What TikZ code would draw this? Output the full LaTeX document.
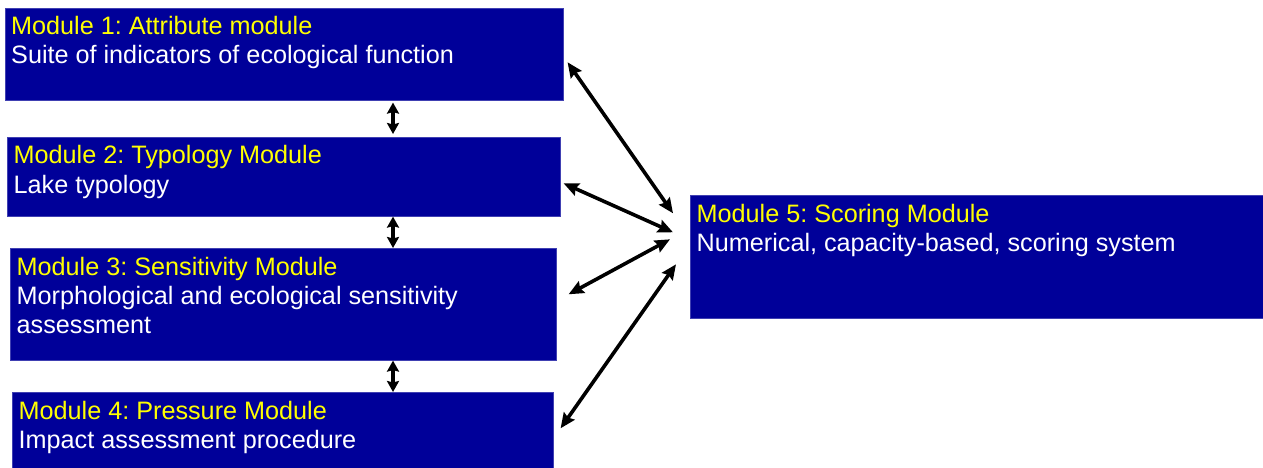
\documentclass[tikz,border=0pt]{standalone}
\usepackage{fontspec}
\setmainfont{Liberation Sans}
\usetikzlibrary{arrows.meta,calc}
\definecolor{boxblue}{RGB}{0,0,153}
\definecolor{titleyellow}{RGB}{255,255,0}
\frenchspacing
\begin{document}
\begin{tikzpicture}[x=1pt,y=-1pt,
  modbox/.style={draw=boxblue!75!white, line width=0.6pt, fill=boxblue, inner sep=0pt, anchor=north west},
  title/.style={anchor=base west, inner sep=0pt, text=titleyellow, font=\fontsize{25.2}{29}\selectfont},
  body/.style={title, text=white},
  link/.style={line width=3.6pt, {Stealth[length=15pt,width=13pt,inset=2pt]}-{Stealth[length=15pt,width=13pt,inset=2pt]}},
  vlink/.style={line width=3.6pt, {Stealth[length=11pt,width=12pt,inset=1.5pt]}-{Stealth[length=11pt,width=12pt,inset=1.5pt]}},
  ]
\useasboundingbox (0,0) rectangle (1263,468);

% module boxes
\node[modbox, minimum width=558.5pt, minimum height=92pt]  (m1) at (4.5,8)  {};
\node[modbox, minimum width=553pt,   minimum height=79pt]  (m2) at (7,137)  {};
\node[modbox, minimum width=546pt,   minimum height=112pt] (m3) at (10,248) {};
\node[modbox, minimum width=541pt,   minimum height=80pt]  (m4) at (12,392) {};
\node[modbox, minimum width=574pt,   minimum height=123pt] (m5) at (690,195) {};

% box texts
\node[title] (t1) at ($(m1.north west)+(6.5,27)$) {Module 1: Attribute module};
\node[body]  (b1) at ($(m1.north west)+(6.5,56)$) {Suite of indicators of ecological function};

\node[title] (t2) at ($(m2.north west)+(6.5,27)$) {Module 2: Typology Module};
\node[body]  (b2) at ($(m2.north west)+(6.5,56)$) {Lake typology};

\node[title] (t3) at ($(m3.north west)+(6.5,27)$) {Module 3: Sensitivity Module};
\node[body]  (b3) at ($(m3.north west)+(6.5,56)$) {Morphological and ecological sensitivity};
\node[body]  (b3b) at ($(m3.north west)+(6.5,85)$) {assessment};

\node[title] (t4) at ($(m4.north west)+(6.5,27)$) {Module 4: Pressure Module};
\node[body]  (b4) at ($(m4.north west)+(6.5,56)$) {Impact assessment procedure};

\node[title] (t5) at ($(m5.north west)+(6.5,27)$) {Module 5: Scoring Module};
\node[body]  (b5) at ($(m5.north west)+(6.5,56)$) {Numerical, capacity-based, scoring system};

% vertical links between neighbouring modules
\coordinate (vx) at (393,0);
\draw[vlink] ($(m1.south -| vx)+(0,2)$) -- ($(m2.north -| vx)+(0,-3)$);
\draw[vlink] ($(m2.south -| vx)+(0,0)$) -- ($(m3.north -| vx)+(0,0)$);
\draw[vlink] ($(m3.south -| vx)+(0,0)$) -- ($(m4.north -| vx)+(0,0)$);

% links to the scoring module
\draw[link] ($(m1.east)+(4,8)$)    -- ($(m5.west)+(-17,-43.5)$);
\draw[link] ($(m2.east)+(3,6.5)$)  -- ($(m5.west)+(-17,-24.5)$);
\draw[link] ($(m3.east)+(12,-10)$) -- ($(m5.west)+(-20,-17.5)$);
\draw[link] ($(m4.east)+(7,-4)$)   -- ($(m5.west)+(-14,7.5)$);
\end{tikzpicture}
\end{document}
